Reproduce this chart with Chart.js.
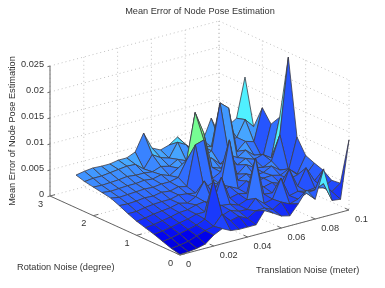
<!DOCTYPE html>
<html>
<head>
<meta charset="utf-8">
<style>
  html, body { margin: 0; padding: 0; background: #fff; }
  canvas { display: block; }
</style>
</head>
<body>
<canvas id="myChart" width="385" height="288"></canvas>
<script src="https://cdn.jsdelivr.net/npm/chart.js@4/dist/chart.umd.min.js"></script>
<script>
const translationNoise = [0, 0.005, 0.01, 0.015, 0.02, 0.025, 0.03, 0.035, 0.04, 0.045, 0.05, 0.055, 0.06, 0.065, 0.07, 0.075, 0.08, 0.085, 0.09, 0.095, 0.1];
const rotationNoise = [0, 0.2, 0.4, 0.6, 0.8, 1.0, 1.2, 1.4, 1.6, 1.8, 2.0, 2.2, 2.4];

// mean error x 1000, one row per rotation value, one column per translation value
const meanError = [
  [0.1, 0.2, 0.4, 0.8, 2.1, 2.9, 2.1, 1.9, 1.9, 1.9, 4.2, 3.3, 2.3, 1.9, 3.8, 6.0, 3.8, 9.2, 2.7, 2.5, 13.5],
  [0.5, 0.7, 1.0, 1.6, 2.2, 2.6, 4.5, 2.8, 3.2, 2.4, 3.4, 3.5, 2.8, 3.8, 3.0, 3.5, 4.2, 4.4, 5.2, 3.2, 4.4],
  [1.1, 1.3, 1.7, 2.1, 2.5, 3.2, 10.2, 3.0, 3.6, 3.0, 2.9, 4.6, 3.2, 3.6, 7.2, 3.4, 3.8, 3.4, 3.6, 3.2, 4.2],
  [1.7, 1.9, 2.2, 2.6, 2.9, 3.4, 3.4, 4.0, 3.8, 3.6, 3.0, 3.6, 11.2, 3.8, 3.6, 3.5, 7.3, 3.6, 6.7, 3.8, 5.4],
  [2.2, 2.4, 2.7, 3.0, 3.4, 3.5, 4.0, 4.2, 3.4, 8.0, 3.6, 4.0, 3.6, 4.2, 4.0, 4.4, 3.8, 4.2, 4.6, 4.2, 6.0],
  [2.7, 2.9, 3.2, 3.4, 3.6, 4.0, 3.6, 4.4, 7.0, 4.2, 4.0, 4.6, 3.8, 4.8, 4.0, 4.5, 4.6, 4.2, 5.0, 3.6, 6.7],
  [3.4, 3.4, 3.7, 3.9, 4.0, 4.0, 4.4, 4.2, 3.9, 4.4, 5.0, 4.2, 12.4, 4.2, 5.0, 4.2, 4.4, 5.2, 4.0, 3.5, 9.5],
  [4.2, 4.1, 4.2, 4.4, 4.3, 4.6, 4.4, 4.8, 4.4, 12.0, 12.5, 4.6, 5.5, 4.6, 4.2, 5.6, 4.6, 4.2, 5.0, 9.6, 24.1],
  [4.9, 4.6, 4.7, 4.8, 4.9, 4.8, 5.0, 5.0, 5.4, 8.3, 17.0, 12.7, 5.6, 5.0, 6.0, 4.8, 5.6, 5.0, 5.5, 4.4, 11.8],
  [5.2, 5.0, 5.1, 5.2, 5.2, 5.4, 5.2, 5.6, 5.0, 6.0, 5.4, 6.0, 5.4, 6.2, 4.6, 6.0, 5.0, 6.0, 4.6, 3.5, 9.7],
  [5.5, 5.4, 5.5, 5.6, 5.8, 5.6, 5.6, 5.4, 6.0, 5.6, 6.5, 5.8, 6.2, 5.6, 6.4, 15.2, 13.8, 5.0, 6.5, 6.0, 12.1],
  [5.8, 6.0, 6.0, 6.2, 6.4, 6.6, 6.5, 5.2, 7.5, 6.5, 6.0, 8.6, 7.7, 6.0, 6.5, 6.0, 6.5, 6.0, 6.5, 9.5, 7.7],
  [6.3, 6.6, 6.8, 6.7, 6.7, 7.0, 7.0, 7.7, 10.9, 7.6, 6.8, 7.3, 8.4, 6.4, 5.0, 6.4, 10.3, 6.6, 8.0, 9.0, 16.5]
];

const zTicks = [0, 0.005, 0.01, 0.015, 0.02, 0.025];
const zTickLabels = ["0", "0.005", "0.01", "0.015", "0.02", "0.025"];
const rTicks = [0, 1, 2, 3];
const rTickLabels = ["0", "1", "2", "3"];
const tTicks = [0, 0.02, 0.04, 0.06, 0.08, 0.1];
const tTickLabels = ["0", "0.02", "0.04", "0.06", "0.08", "0.1"];

// colour ramp, error x 1000 -> rgb
const rampValues = [0, 1, 2.5, 4, 6.5, 9.5, 12.5];
const rampColors = [[0, 0, 215], [0, 0, 240], [25, 55, 252], [45, 100, 255], [70, 165, 255], [80, 240, 255], [125, 255, 125]];

function rampColor(v) {
  let k = 0;
  while (k < rampValues.length - 2 && v > rampValues[k + 1]) k++;
  const f = Math.min(1, Math.max(0, (v - rampValues[k]) / (rampValues[k + 1] - rampValues[k])));
  const c = rampColors[k].map((a, n) => Math.round(a + (rampColors[k + 1][n] - a) * f));
  return `rgb(${c[0]},${c[1]},${c[2]})`;
}

// fixed oblique view of the 3D box, result is in page pixels
function project(t, r, z) {
  const T = t / 0.1;
  const R = r / 3;
  return {
    x: 180 + 169 * T - 130 * R,
    y: 255 - 45 * T - 59 * R - 130 * (z / 0.025),
  };
}

const datasets = [];

function addLine(points, color, width, dash) {
  datasets.push({
    type: "scatter",
    data: points,
    showLine: true,
    borderColor: color,
    borderWidth: width,
    borderDash: dash || [],
    pointRadius: 0,
    fill: false,
    tension: 0,
  });
}

// dotted grid on the two back walls and the floor
const gridColor = "#c0c0c0";
const gridDash = [1, 3];
zTicks.forEach((z) => {
  if (z > 0) {
    addLine([project(0, 3, z), project(0.1, 3, z)], gridColor, 1, gridDash);
    addLine([project(0.1, 3, z), project(0.1, 0, z)], gridColor, 1, gridDash);
  }
});
tTicks.forEach((t) => {
  addLine([project(t, 0, 0), project(t, 3, 0), project(t, 3, 0.025)], gridColor, 1, gridDash);
});
rTicks.forEach((r) => {
  addLine([project(0, r, 0), project(0.1, r, 0), project(0.1, r, 0.025)], gridColor, 1, gridDash);
});

// surface cells, far ones first. A cell takes its colour from its nearest corner.
for (let i = rotationNoise.length - 2; i >= 0; i--) {
  for (let j = translationNoise.length - 2; j >= 0; j--) {
    const corner = (a, b) => project(translationNoise[b], rotationNoise[a], meanError[a][b] / 1000);
    datasets.push({
      type: "scatter",
      data: [corner(i, j), corner(i, j + 1), corner(i + 1, j + 1), corner(i + 1, j), corner(i, j)],
      showLine: true,
      borderColor: "#3c3c46",
      borderWidth: 0.8,
      backgroundColor: rampColor(meanError[i][j]),
      fill: "shape",
      pointRadius: 0,
      tension: 0,
    });
  }
}

// axes and tick marks
const axisColor = "#666666";
addLine([project(0, 3, 0), project(0, 3, 0.025)], axisColor, 1);
addLine([project(0, 3, 0), project(0, 0, 0)], axisColor, 1);
addLine([project(0, 0, 0), project(0.1, 0, 0)], axisColor, 1);
zTicks.forEach((z) => addLine([project(0, 3, z), project(-0.0015, 3, z)], axisColor, 1));
rTicks.forEach((r) => addLine([project(0, r, 0), project(0.003, r, 0)], axisColor, 1));
tTicks.forEach((t) => addLine([project(t, 0, 0), project(t, 0.09, 0)], axisColor, 1));

datasets.forEach((d, k) => { d.order = -k; });

const labelsPlugin = {
  id: "boxLabels",
  afterDraw(chart) {
    const { ctx, scales } = chart;
    const px = (p, dx, dy) => [scales.x.getPixelForValue(p.x) + dx, scales.y.getPixelForValue(p.y) + dy];
    ctx.save();
    ctx.fillStyle = "#333";
    ctx.font = "9.2px 'Liberation Sans'";
    ctx.textBaseline = "middle";

    ctx.textAlign = "right";
    zTicks.forEach((z, k) => {
      const [x, y] = px(project(0, 3, z), -6, -1.5);
      ctx.fillText(zTickLabels[k], x, y);
    });
    ctx.textAlign = "center";
    rTicks.forEach((r, k) => {
      const [x, y] = px(project(0, r, 0), -9.5, 8);
      ctx.fillText(rTickLabels[k], x, y);
    });
    ctx.textAlign = "left";
    tTicks.forEach((t, k) => {
      const [x, y] = px(project(t, 0, 0), 6, 9);
      ctx.fillText(tTickLabels[k], x, y);
    });

    ctx.fillText("Rotation Noise (degree)", 17, 267);
    ctx.fillText("Translation Noise (meter)", 256, 270);
    ctx.textAlign = "center";
    ctx.fillText("Mean Error of Node Pose Estimation", 200, 11);

    ctx.translate(12, 131);
    ctx.rotate(-Math.PI / 2);
    ctx.fillText("Mean Error of Node Pose Estimation", 0, 0);
    ctx.restore();
  },
};

new Chart(document.getElementById("myChart"), {
  type: "scatter",
  data: { datasets },
  plugins: [labelsPlugin],
  options: {
    responsive: false,
    animation: false,
    events: [],
    layout: { padding: 0 },
    clip: false,
    plugins: { legend: { display: false }, tooltip: { enabled: false }, title: { display: false } },
    scales: {
      x: { type: "linear", display: false, min: 0, max: 385 },
      y: { type: "linear", display: false, min: 0, max: 288, reverse: true },
    },
  },
});
</script>
</body>
</html>
